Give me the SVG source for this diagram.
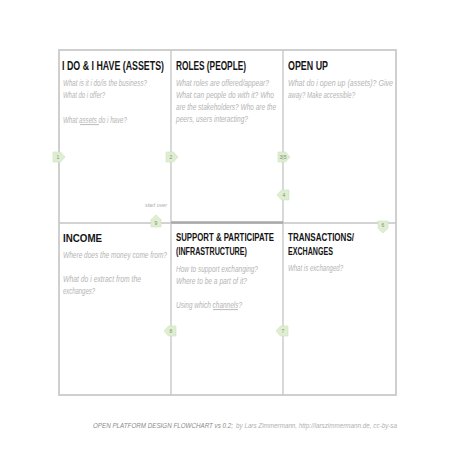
<svg xmlns="http://www.w3.org/2000/svg" width="452" height="452" viewBox="0 0 452 452">
<style>
.grid{stroke:#c4c4c4;stroke-width:1.3;fill:none}
.outer{stroke:#cfcfcf;stroke-width:2;fill:none}
.h1{font-family:"Liberation Sans",Arial,sans-serif;font-weight:bold;font-size:13.5px;fill:#141414}
.h2{font-family:"Liberation Sans",Arial,sans-serif;font-weight:bold;font-size:11.5px;fill:#141414}
.q{font-family:"Liberation Sans",Arial,sans-serif;font-style:italic;font-size:8.5px;fill:#b4b4b4}
.ul{stroke:#8c8c8c;stroke-width:0.6}
.arr{fill:#dfeed3;stroke:#cfe3bd;stroke-width:0.6}
.num{font-family:"Liberation Sans",Arial,sans-serif;font-size:5px;fill:#7d8f6c;text-anchor:middle}
.small{font-family:"Liberation Sans",Arial,sans-serif;font-style:italic;font-size:5.5px;fill:#aaaaaa}
.foot1{font-family:"Liberation Sans",Arial,sans-serif;font-style:italic;font-size:7.5px;fill:#8a8a8a}
.foot2{font-family:"Liberation Sans",Arial,sans-serif;font-style:italic;font-size:7.5px;fill:#b0b0b0}
</style>
<defs>
<path id="ar" d="M-6,-5 H1.5 L6,0 L1.5,5 H-6 Z"/>
</defs>
<rect width="452" height="452" fill="#ffffff"/>
<g id="connectors">
<rect class="outer" x="59" y="50" width="337" height="345"/>
<line class="grid" x1="171" y1="50" x2="171" y2="395"/>
<line class="grid" x1="283" y1="50" x2="283" y2="395"/>
<line class="grid" x1="59" y1="223" x2="396" y2="223"/>
<line x1="171" y1="222.5" x2="283" y2="222.5" stroke="#aaaaaa" stroke-width="2.6"/>
</g>
<g id="cell-assets">
<text class="h1" transform="translate(62,70) scale(0.65,1)" x="0" y="0" textLength="156.9" lengthAdjust="spacingAndGlyphs">I DO &amp; I HAVE (ASSETS)</text>
<text class="q" transform="translate(63,86) scale(0.7,1)" x="0" y="0" textLength="120" lengthAdjust="spacingAndGlyphs">What is it i do/is the business?</text>
<text class="q" transform="translate(63,98) scale(0.7,1)" x="0" y="0" textLength="60" lengthAdjust="spacingAndGlyphs">What do i offer?</text>
<text class="q" transform="translate(63,123) scale(0.7,1)" x="0" y="0" textLength="91.4" lengthAdjust="spacingAndGlyphs">What assets do i have?</text>
<line class="ul" x1="80" y1="124.6" x2="99" y2="124.6"/>
</g>
<g id="cell-roles">
<text class="h1" transform="translate(176,70) scale(0.65,1)" x="0" y="0" textLength="107.7" lengthAdjust="spacingAndGlyphs">ROLES (PEOPLE)</text>
<text class="q" transform="translate(176,86) scale(0.7,1)" x="0" y="0" textLength="132.9" lengthAdjust="spacingAndGlyphs">What roles are offered/appear?</text>
<text class="q" transform="translate(176,98) scale(0.7,1)" x="0" y="0" textLength="140" lengthAdjust="spacingAndGlyphs">What can people do with it? Who</text>
<text class="q" transform="translate(176,110) scale(0.7,1)" x="0" y="0" textLength="142.9" lengthAdjust="spacingAndGlyphs">are the stakeholders? Who are the</text>
<text class="q" transform="translate(176,122) scale(0.7,1)" x="0" y="0" textLength="102.9" lengthAdjust="spacingAndGlyphs">peers, users interacting?</text>
</g>
<g id="cell-openup">
<text class="h1" transform="translate(288,70) scale(0.65,1)" x="0" y="0" textLength="61.5" lengthAdjust="spacingAndGlyphs">OPEN UP</text>
<text class="q" transform="translate(288,86) scale(0.7,1)" x="0" y="0" textLength="150" lengthAdjust="spacingAndGlyphs">What do i open up (assets)? Give</text>
<text class="q" transform="translate(288,98) scale(0.7,1)" x="0" y="0" textLength="95.7" lengthAdjust="spacingAndGlyphs">away? Make accessible?</text>
</g>
<g id="cell-income">
<text class="h2" transform="translate(63,242) scale(0.65,1)" x="0" y="0" textLength="60" lengthAdjust="spacingAndGlyphs">INCOME</text>
<text class="q" transform="translate(63,258) scale(0.7,1)" x="0" y="0" textLength="148.6" lengthAdjust="spacingAndGlyphs">Where does the money come from?</text>
<text class="q" transform="translate(63,282) scale(0.7,1)" x="0" y="0" textLength="111.4" lengthAdjust="spacingAndGlyphs">What do i extract from the</text>
<text class="q" transform="translate(63,294) scale(0.7,1)" x="0" y="0" textLength="45.7" lengthAdjust="spacingAndGlyphs">exchanges?</text>
</g>
<g id="cell-support">
<text class="h2" transform="translate(176,241) scale(0.65,1)" x="0" y="0" textLength="150.8" lengthAdjust="spacingAndGlyphs">SUPPORT &amp; PARTICIPATE</text>
<text class="h2" transform="translate(176,255) scale(0.65,1)" x="0" y="0" textLength="109.2" lengthAdjust="spacingAndGlyphs">(INFRASTRUCTURE)</text>
<text class="q" transform="translate(176,272) scale(0.7,1)" x="0" y="0" textLength="117.1" lengthAdjust="spacingAndGlyphs">How to support exchanging?</text>
<text class="q" transform="translate(176,284) scale(0.7,1)" x="0" y="0" textLength="101.4" lengthAdjust="spacingAndGlyphs">Where to be a part of it?</text>
<text class="q" transform="translate(176,308) scale(0.7,1)" x="0" y="0" textLength="94.3" lengthAdjust="spacingAndGlyphs">Using which channels?</text>
<line class="ul" x1="213" y1="309.6" x2="238" y2="309.6"/>
</g>
<g id="cell-transactions">
<text class="h2" transform="translate(288,241) scale(0.65,1)" x="0" y="0" textLength="101.5" lengthAdjust="spacingAndGlyphs">TRANSACTIONS/</text>
<text class="h2" transform="translate(288,255) scale(0.65,1)" x="0" y="0" textLength="69.2" lengthAdjust="spacingAndGlyphs">EXCHANGES</text>
<text class="q" transform="translate(288,271) scale(0.7,1)" x="0" y="0" textLength="78.6" lengthAdjust="spacingAndGlyphs">What is exchanged?</text>
</g>
<g id="step-1"><use href="#ar" class="arr" transform="translate(59,157)"/><text class="num" x="58" y="158.8">1</text></g>
<g id="step-2"><use href="#ar" class="arr" transform="translate(172,157)"/><text class="num" x="171" y="158.8">2</text></g>
<g id="step-35"><use href="#ar" class="arr" transform="translate(284,157)"/><text class="num" x="283" y="158.8">3|5</text></g>
<g id="step-4"><use href="#ar" class="arr" transform="translate(283,195) rotate(180)"/><text class="num" x="284" y="196.8">4</text></g>
<g id="step-6"><use href="#ar" class="arr" transform="translate(383,227) rotate(90)"/><text class="num" x="383" y="227">6</text></g>
<g id="step-7"><use href="#ar" class="arr" transform="translate(282,331) rotate(180)"/><text class="num" x="283" y="332.8">7</text></g>
<g id="step-8"><use href="#ar" class="arr" transform="translate(170,331) rotate(180)"/><text class="num" x="171" y="332.8">8</text></g>
<g id="step-9"><use href="#ar" class="arr" transform="translate(156,221) rotate(-90)"/><text class="num" x="156" y="224.5">9</text>
<text class="small" x="145" y="207" textLength="22" lengthAdjust="spacingAndGlyphs">start over</text></g>
<g id="footer">
<text class="foot1" transform="translate(93,428) scale(0.65,1)" x="0" y="0" textLength="215.4" lengthAdjust="spacingAndGlyphs">OPEN PLATFORM DESIGN FLOWCHART vs 0.2;</text>
<text class="foot2" transform="translate(236,428) scale(0.65,1)" x="0" y="0" textLength="247.7" lengthAdjust="spacingAndGlyphs">by Lars Zimmermann, http://larszimmermann.de, cc-by-sa</text>
</g>
</svg>
